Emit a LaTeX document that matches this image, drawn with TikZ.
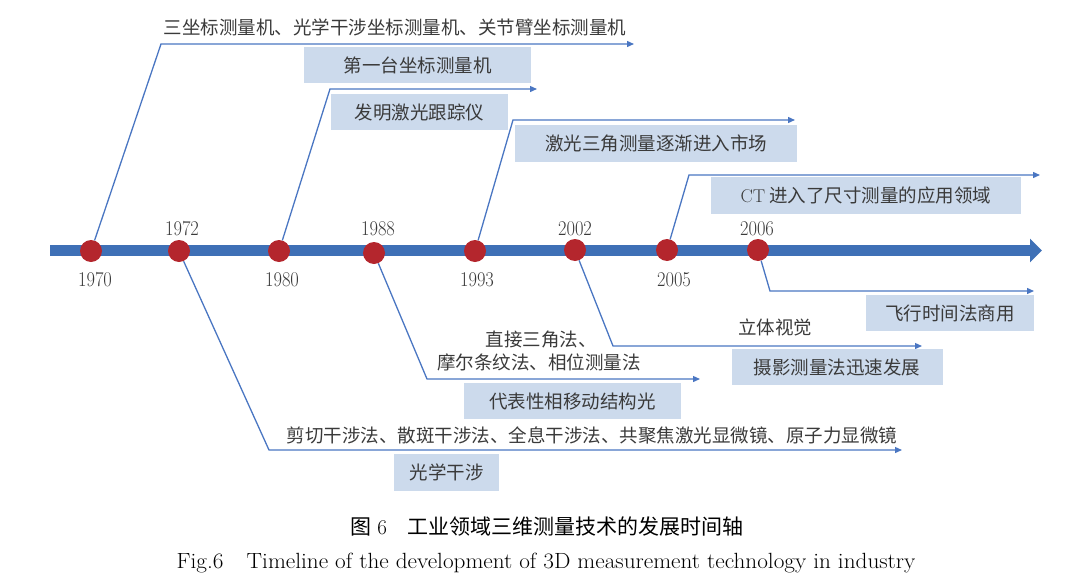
\documentclass[tikz,border=0pt]{standalone}
\usepackage{fontspec}
\usepackage{graphicx}
\newfontfamily\cjk{Noto Sans CJK SC}
\usetikzlibrary{arrows.meta}
\definecolor{tl}{HTML}{3E70B6}
\definecolor{dotred}{HTML}{B4262D}
\definecolor{ln}{HTML}{4A76C2}
\definecolor{boxbg}{HTML}{CCDAEC}
\definecolor{txt}{HTML}{3A3A3A}
\newcommand{\yrtext}[1]{\scalebox{0.88}[1]{#1}}
\tikzset{
  dot/.style={circle, fill=dotred, minimum size=22pt, inner sep=0pt},
  yr/.style={font=\fontsize{21}{24}\selectfont, text=txt, inner sep=0pt},
  conn/.style={draw=ln, line width=1.3pt, -{Triangle[length=7pt,width=6pt]}},
  box/.style={fill=boxbg, inner sep=0pt, font=\cjk\fontsize{18.5}{22}\selectfont, text=txt},
  lbl/.style={inner sep=0pt, font=\cjk\fontsize{18.5}{22}\selectfont, text=txt},
  captxt/.style={inner sep=0pt, font=\fontsize{21}{25}\selectfont, text=black},
  capeng/.style={inner sep=0pt, font=\fontsize{22}{25}\selectfont, text=black},
}
\begin{document}
\begin{tikzpicture}[x=1pt,y=-1pt]
\useasboundingbox (0,0) rectangle (1080,581);
% timeline
\draw[tl, line width=11pt, -{Triangle[length=12pt,width=23pt]}] (50,250.5) -- (1042,250.5);
% dots
\node[dot] (d1970) at (91,251) {};
\node[dot] (d1972) at (179,251) {};
\node[dot] (d1980) at (279,251) {};
\node[dot] (d1988) at (374,253) {};
\node[dot] (d1993) at (475,251) {};
\node[dot] (d2002) at (575,250) {};
\node[dot] (d2005) at (667,250) {};
\node[dot] (d2006) at (758,250) {};
% year labels
\node[yr] (y1970) at (95,280) {\yrtext{1970}};
\node[yr] (y1972) at (182,229) {\yrtext{1972}};
\node[yr] (y1980) at (282,280) {\yrtext{1980}};
\node[yr] (y1988) at (378,229) {\yrtext{1988}};
\node[yr] (y1993) at (477,280) {\yrtext{1993}};
\node[yr] (y2002) at (575,229) {\yrtext{2002}};
\node[yr] (y2005) at (674,280) {\yrtext{2005}};
\node[yr] (y2006) at (757,229) {\yrtext{2006}};
% corner / end coordinates
\coordinate (c1) at (161,44);  \coordinate (e1) at (634,44);
\coordinate (c2) at (330,89);  \coordinate (e2) at (537,89);
\coordinate (c3) at (513,120); \coordinate (e3) at (795,120);
\coordinate (c4) at (689,175); \coordinate (e4) at (1040,175);
\coordinate (c5) at (770,291); \coordinate (e5) at (1034,291);
\coordinate (c6) at (613,346); \coordinate (e6) at (922,346);
\coordinate (c7) at (427,379); \coordinate (e7) at (700,379);
\coordinate (c8) at (269,450); \coordinate (e8) at (902,450);
% connectors
\draw[conn] (d1970) -- (c1) -- (e1);
\draw[conn] (d1980) -- (c2) -- (e2);
\draw[conn] (d1993) -- (c3) -- (e3);
\draw[conn] (d2005) -- (c4) -- (e4);
\draw[conn] (d2006) -- (c5) -- (e5);
\draw[conn] (d2002) -- (c6) -- (e6);
\draw[conn] (d1988) -- (c7) -- (e7);
\draw[conn] (d1972) -- (c8) -- (e8);
% boxes
\node[box, minimum width=227pt, minimum height=36pt] (b1) at (417.5,65) {第一台坐标测量机};
\node[box, minimum width=177pt, minimum height=36pt] (b2) at (419.5,112) {发明激光跟踪仪};
\node[box, minimum width=282pt, minimum height=37pt] (b3) at (656,143.5) {激光三角测量逐渐进入市场};
\node[box, minimum width=310pt, minimum height=37pt] (b4) at (866,195.5) {{\rmfamily CT} 进入了尺寸测量的应用领域};
\node[box, minimum width=168pt, minimum height=36pt] (b5) at (950,313) {飞行时间法商用};
\node[box, minimum width=211pt, minimum height=36pt] (b6) at (837,367) {摄影测量法迅速发展};
\node[box, minimum width=217pt, minimum height=36pt] (b7) at (572.5,401) {代表性相移动结构光};
\node[box, minimum width=105pt, minimum height=37pt] (b8) at (446.5,472.5) {光学干涉};
% free labels
\node[lbl] (t1) at (395,27) {三坐标测量机、光学干涉坐标测量机、关节臂坐标测量机};
\node[lbl] (t6) at (775,327) {立体视觉};
\node[lbl] (t7a) at (541,340) {直接三角法、};
\node[lbl] (t7b) at (539,362) {摩尔条纹法、相位测量法};
\node[lbl] (t8) at (592,435) {剪切干涉法、散斑干涉法、全息干涉法、共聚焦激光显微镜、原子力显微镜};
% caption
\node[captxt] (cap1) at (547,527) {{\cjk 图} 6\quad{\cjk 工业领域三维测量技术的发展时间轴}};
\node[capeng] (cap2) at (546,563) {\scalebox{1.055}[1]{Fig.6\quad Timeline of the development of 3D measurement technology in industry}};
\end{tikzpicture}
\end{document}
